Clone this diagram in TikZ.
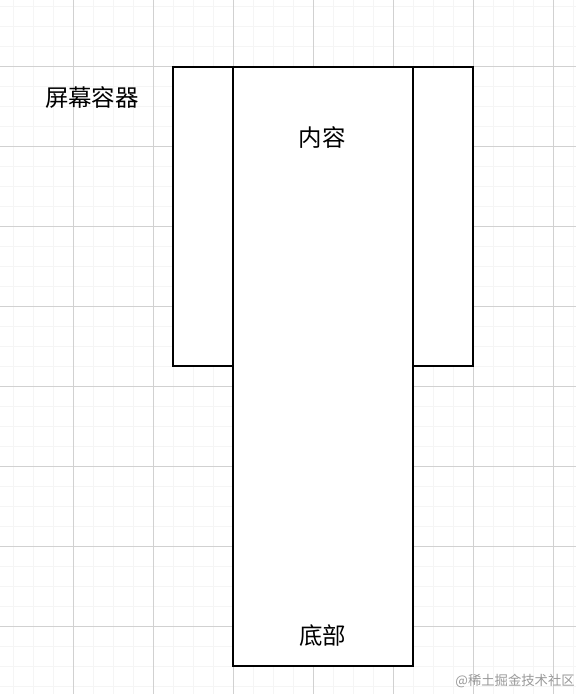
\documentclass[tikz,border=0pt]{standalone}
\usepackage{fontspec}
\newfontfamily\cjk{Noto Sans CJK SC}
\usepackage{tikz}

\begin{document}
\begin{tikzpicture}[
    x=0.75pt, y=-0.75pt,
    font=\cjk\fontsize{17.6}{20}\selectfont,
    minorline/.style={draw=black!4, line width=0.75pt},
    majorline/.style={draw=black!18, line width=0.75pt},
    panel/.style={draw, fill=white, line width=1.5pt},
    label/.style={inner sep=0pt, anchor=center},
    wmark/.style={inner sep=0pt, anchor=east, text=black!40,
      font=\cjk\fontsize{10}{12}\selectfont}
  ]
    \useasboundingbox[fill=white] (0,0) rectangle (576,694);

    % background grid
    \foreach \gx in {13,33,...,573} \draw[minorline] (\gx,0) -- (\gx,694);
    \foreach \gy in {6.7,26.7,...,694} \draw[minorline] (0,\gy) -- (576,\gy);
    \foreach \gx in {73,153,...,573} \draw[majorline] (\gx,0) -- (\gx,694);
    \foreach \gy in {66,146,...,694} \draw[majorline] (0,\gy) -- (576,\gy);

    % screen container and content column
    \draw[panel] (173,67) rectangle (233,366);
    \draw[panel] (413,67) rectangle (473,366);
    \draw[panel] (233,67) rectangle (413,666);

    \node[label] (screen) at (92,97.5) {屏幕容器};
    \node[label] (content) at (322,137.5) {内容};
    \node[label] (footer) at (322.5,635.5) {底部};

    \node[wmark] (wm) at (575,681) {@稀土掘金技术社区};
  \end{tikzpicture}
\end{document}
